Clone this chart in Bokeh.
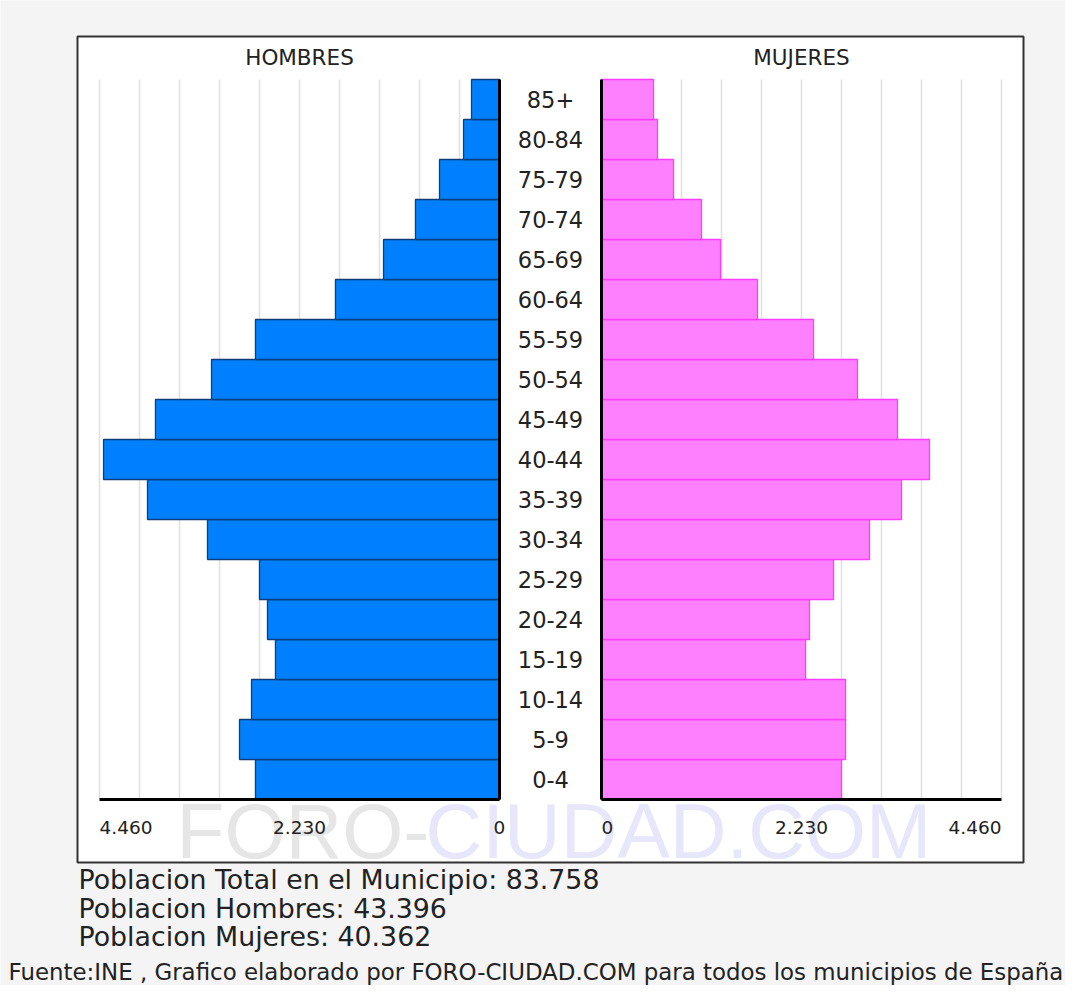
from bokeh.plotting import figure
from bokeh.models import Range1d, ColumnDataSource
from bokeh.core.properties import value
from bokeh.embed import file_html
from bokeh.resources import INLINE

# ---------------- data ----------------
ages = ["0-4", "5-9", "10-14", "15-19", "20-24", "25-29", "30-34", "35-39", "40-44",
        "45-49", "50-54", "55-59", "60-64", "65-69", "70-74", "75-79", "80-84", "85+"]
hombres = [2721, 2899, 2765, 2498, 2587, 2676, 3256, 3925, 4415,
           3836, 3211, 2721, 1829, 1293, 937, 669, 401, 312]
mujeres = [2676, 2721, 2721, 2275, 2319, 2587, 2988, 3345, 3657,
           3300, 2854, 2364, 1739, 1327, 1115, 803, 624, 580]
axis_max = 4460
tick_values = [0, 2230, 4460]
grid_step = 446
pob_total = 83758
pob_hombres = 43396
pob_mujeres = 40362
titulo_h = "HOMBRES"
titulo_m = "MUJERES"
fuente = "Fuente:INE , Grafico elaborado por FORO-CIUDAD.COM para todos los municipios de España"


def fmt(n):
    return f"{n:,}".replace(",", ".")


# ---------------- layout helpers (page pixels -> data) ----------------
W, H = 1065, 985
PX = axis_max / 400.0          # population units per pixel
CX = 558.0                     # page x of centre
GAP = 51 * PX                  # half gap between the two zero lines
BASE_Y = 807.0                 # page y of the bottom of the first band
BAND = 40.0                    # pixels per age band


def X(px):
    return (px - CX) * PX


def Y(py):
    return (BASE_Y - py) / BAND


FONT = value("DejaVu Sans")
TXT = "#222222"

p = figure(width=W, height=H, x_range=Range1d(X(8), X(8 + W)),
           y_range=Range1d(Y(8 + H), Y(8)), output_backend="svg",
           toolbar_location=None, min_border=0, x_axis_type=None, y_axis_type=None,
           background_fill_color="#f4f4f4", border_fill_color="#f4f4f4",
           outline_line_color=None)
p.grid.visible = False

# white chart box
p.quad(left=[X(85)], right=[X(1031)], top=[Y(44)], bottom=[Y(870)],
       fill_color="white", line_color="#333333", line_width=2)

# watermark
p.text(x=[X(184)], y=[Y(838)], text=["FORO-"], text_font=value("Liberation Sans"),
       text_font_size="78.5px", text_color="#e6e6e6", text_align="left",
       text_baseline="middle")
p.text(x=[X(433)], y=[Y(838)], text=["CIUDAD.COM"], text_font=value("Liberation Sans"),
       text_font_size="78.5px", text_color="#e7e7fb", text_align="left",
       text_baseline="middle")

# grid lines
n_grid = axis_max // grid_step
gx = []
for k in range(1, n_grid + 1):
    gx.append(-GAP - k * grid_step)
    gx.append(GAP + k * grid_step)
p.segment(x0=gx, x1=gx, y0=[0] * len(gx), y1=[len(ages)] * len(gx),
          line_color="#e0e0e0", line_width=1.5)

# bars
idx = list(range(len(ages)))
src = ColumnDataSource(dict(
    y=[i + 0.5 for i in idx],
    age=ages,
    h_left=[-GAP - v for v in hombres],
    h_right=[-GAP] * len(ages),
    m_left=[GAP] * len(ages),
    m_right=[GAP + v for v in mujeres],
    zero=[0] * len(ages),
))
p.hbar(y="y", height=1, left="h_left", right="h_right", source=src,
       fill_color="#0080ff", line_color="#0d3f7a", line_width=1.3)
p.hbar(y="y", height=1, left="m_left", right="m_right", source=src,
       fill_color="#ff80ff", line_color="#ff3cff", line_width=1.3)

# zero lines and bottom axis lines
p.segment(x0=[-GAP, GAP], x1=[-GAP, GAP], y0=[0, 0], y1=[len(ages), len(ages)],
          line_color="black", line_width=3)
p.segment(x0=[-GAP - axis_max, GAP], x1=[-GAP, GAP + axis_max], y0=[0, 0], y1=[0, 0],
          line_color="black", line_width=3)

# age labels
p.text(x="zero", y="y", text="age", source=src, text_font=FONT, text_font_size="22.5px",
       text_color=TXT, text_align="center", text_baseline="middle")

# panel titles
p.text(x=[-GAP - axis_max / 2, GAP + axis_max / 2], y=[Y(65), Y(65)],
       text=[titulo_h, titulo_m], text_font=FONT, text_font_size="21.5px",
       text_color=TXT, text_align="center", text_baseline="middle")

# tick labels
ty = Y(835)
tick_kw = dict(text_font=FONT, text_font_size="18.5px", text_color=TXT, text_baseline="middle")
p.text(x=[-GAP - tick_values[-1]], y=[ty], text=[fmt(tick_values[-1])], text_align="left", **tick_kw)
mid = tick_values[1:-1]
p.text(x=[-GAP - v for v in mid] + [-GAP] + [GAP + v for v in mid], y=[ty] * (2 * len(mid) + 1),
       text=[fmt(v) for v in mid] + [fmt(0)] + [fmt(v) for v in mid], text_align="center", **tick_kw)
p.text(x=[GAP], y=[ty], text=[fmt(0)], text_align="left", **tick_kw)
p.text(x=[GAP + tick_values[-1]], y=[ty], text=[fmt(tick_values[-1])], text_align="right", **tick_kw)

# population text
lines = [f"Poblacion Total en el Municipio: {fmt(pob_total)}",
         f"Poblacion Hombres: {fmt(pob_hombres)}",
         f"Poblacion Mujeres: {fmt(pob_mujeres)}"]
p.text(x=[X(86)] * 3, y=[Y(887), Y(916), Y(944)], text=lines, text_font=FONT,
       text_font_size="26.8px", text_color=TXT, text_align="left", text_baseline="middle")

# footer
p.text(x=[X(16)], y=[Y(979)], text=[fuente], text_font=FONT, text_font_size="22.9px",
       text_color=TXT, text_align="left", text_baseline="middle")

open("out.html", "w").write(file_html(p, INLINE))
